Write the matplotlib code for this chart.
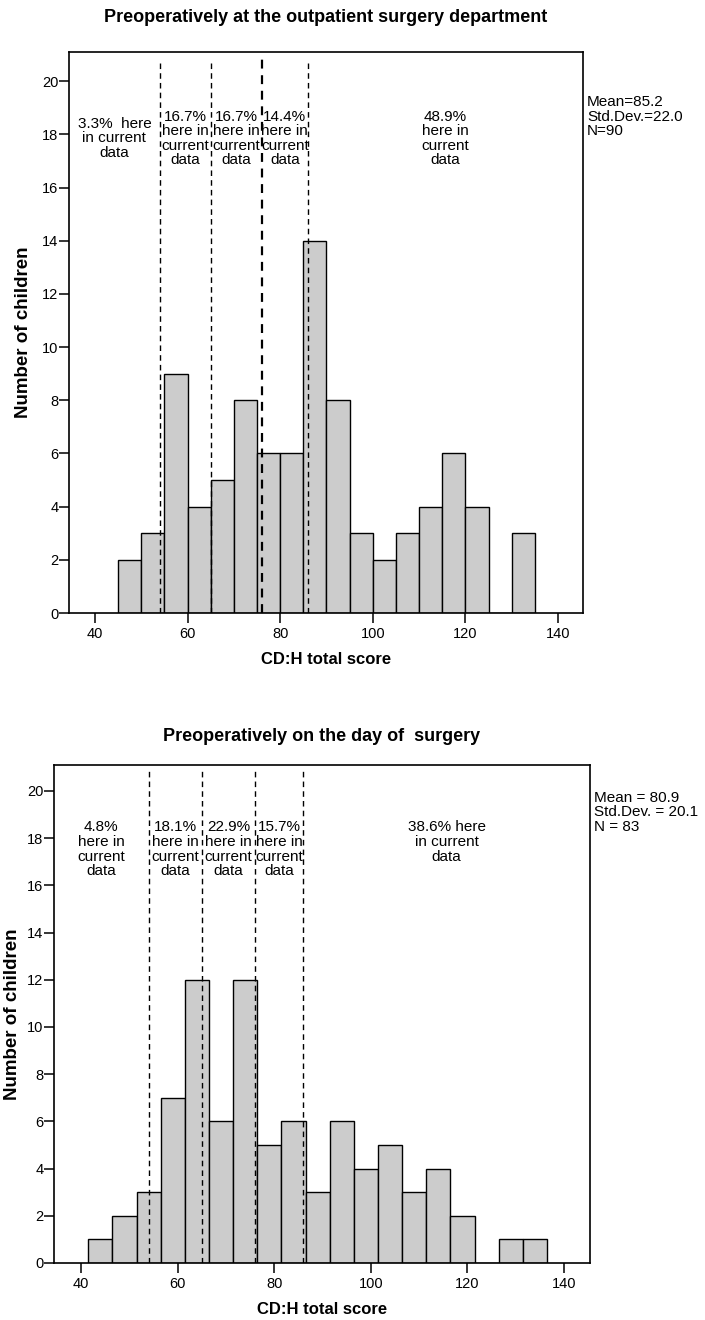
import matplotlib
matplotlib.use("Agg")
import matplotlib.pyplot as plt
import numpy as np

plt.rcParams['font.family'] = ['Liberation Sans', 'DejaVu Sans']

# histogram data (bin width 5)
bin_width = 5
pre_out_start = 45
pre_out_counts = [2, 3, 9, 4, 5, 8, 6, 6, 14, 8, 3, 2, 3, 4, 6, 4, 0, 3]
pre_day_start = 41.5
pre_day_counts = [1, 2, 3, 7, 12, 6, 12, 5, 6, 3, 6, 4, 5, 3, 4, 2, 0, 1, 1]

cutoffs = [54, 65, 76, 86]

pre_out_notes = ["3.3%  here\nin current\ndata",
                 "16.7%\nhere in\ncurrent\ndata",
                 "16.7%\nhere in\ncurrent\ndata",
                 "14.4%\nhere in\ncurrent\ndata",
                 "48.9%\nhere in\ncurrent\ndata"]
pre_day_notes = ["4.8%\nhere in\ncurrent\ndata",
                 "18.1%\nhere in\ncurrent\ndata",
                 "22.9%\nhere in\ncurrent\ndata",
                 "15.7%\nhere in\ncurrent\ndata",
                 "38.6% here\nin current\ndata"]

pre_out_stats = "Mean=85.2\nStd.Dev.=22.0\nN=90"
pre_day_stats = "Mean = 80.9\nStd.Dev. = 20.1\nN = 83"

titles = ["Preoperatively at the outpatient surgery department",
          "Preoperatively on the day of  surgery"]

fig = plt.figure(figsize=(7.05, 13.2), dpi=100)
ax_top = fig.add_axes([0.0979, 0.5356, 0.7291, 0.4250])
ax_bot = fig.add_axes([0.0766, 0.0432, 0.7603, 0.3773])

# axes, data, notes, stats, title, note alignment, note y, stats y, title y (fig), ylabel x (axes)
panels = [
    (ax_top, pre_out_start, pre_out_counts, pre_out_notes, pre_out_stats, titles[0],
     'center', 17.85, 0.885, 0.9864, -0.072),
    (ax_bot, pre_day_start, pre_day_counts, pre_day_notes, pre_day_stats, titles[1],
     'top', 18.75, 0.905, 0.4417, -0.0616),
]

xmin, xmax = 34.4, 145.4
for ax, start, counts, notes, stats, title, va, ynote, ystat, ytitle, xylab in panels:
    edges = start + bin_width * np.arange(len(counts))
    ax.bar(edges, counts, width=bin_width, align='edge', color='#cccccc',
           edgecolor='black', linewidth=1.0, zorder=2)
    for i, c in enumerate(cutoffs):
        lw = 1.6 if (ax is ax_top and i == 2) else 1.0
        ax.vlines(c, 0, 20.85, colors='black', linestyles=(0, (4, 3)), linewidth=lw, zorder=3)

    bounds = [xmin] + cutoffs + [xmax]
    for j, txt in enumerate(notes):
        xm = (bounds[j] + bounds[j + 1]) / 2
        ax.text(xm, ynote, txt, ha='center', va=va, fontsize=11, linespacing=1.05)

    ax.text(1.008, ystat, stats, transform=ax.transAxes, ha='left', va='center',
            fontsize=11, linespacing=1.05, clip_on=False)

    ax.set_xlim(xmin, xmax)
    ax.set_ylim(0, 21.1)
    ax.set_xticks([40, 60, 80, 100, 120, 140])
    ax.set_yticks(np.arange(0, 21, 2))
    ax.tick_params(direction='out', length=7, width=1.1, labelsize=10.5)
    ax.tick_params(axis='x', pad=3)
    ax.tick_params(axis='y', pad=0.5)
    for s in ax.spines.values():
        s.set_linewidth(1.2)
    ax.set_xlabel("CD:H total score", fontsize=12, fontweight='bold', labelpad=8)
    ax.set_ylabel("Number of children", fontsize=13.5, fontweight='bold')
    ax.yaxis.set_label_coords(xylab, 0.5)

    pos = ax.get_position()
    fig.text((pos.x0 + pos.x1) / 2, ytitle, title, ha='center', va='center',
             fontsize=13, fontweight='bold')

plt.savefig("out.png", dpi=100)
